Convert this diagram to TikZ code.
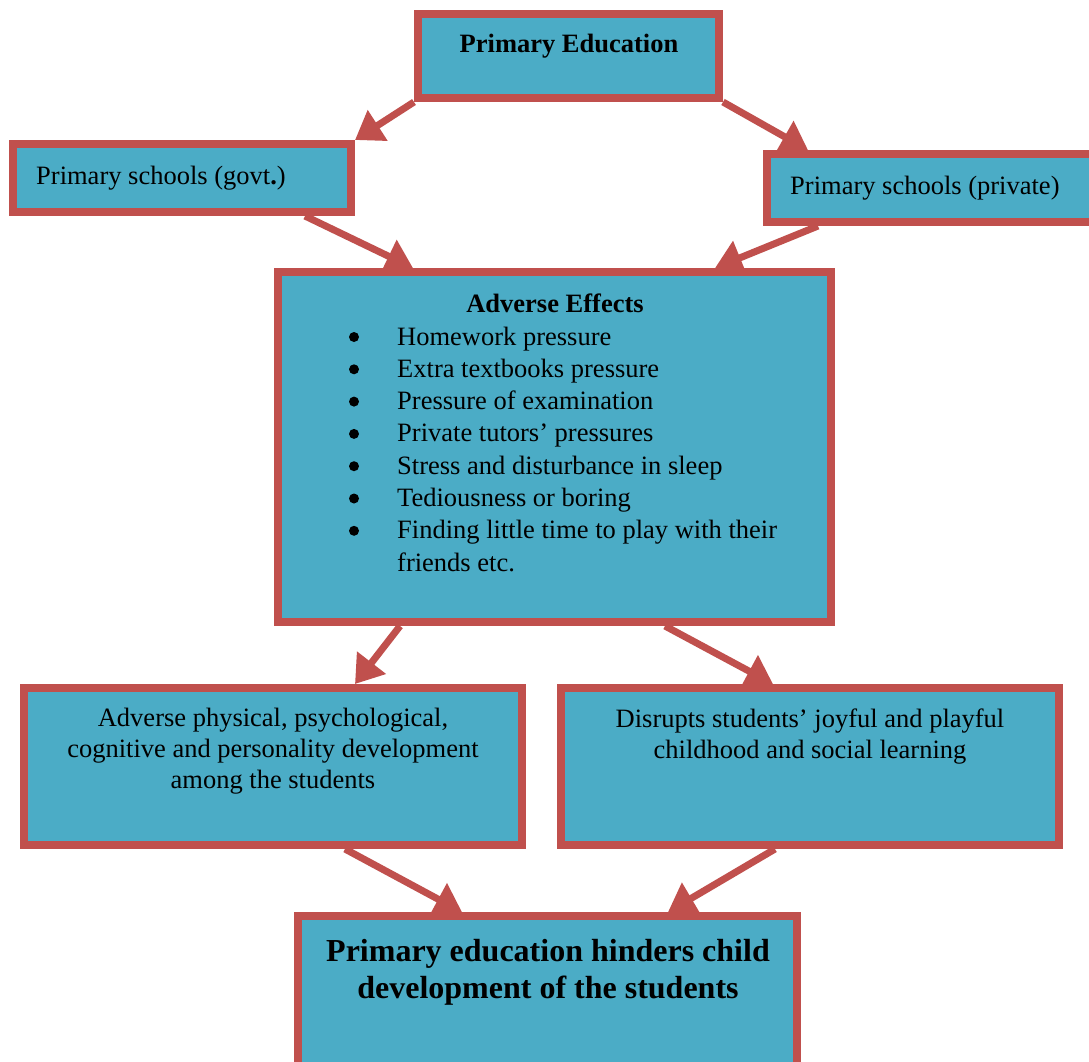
\documentclass[tikz,border=0pt]{standalone}
\usepackage{fontspec}
\setmainfont{Liberation Serif}
\usetikzlibrary{arrows.meta,calc}
\definecolor{boxfill}{HTML}{4BACC6}
\definecolor{boxline}{HTML}{C0504D}
\begin{document}
\begin{tikzpicture}[x=1pt,y=-1pt,
  box/.style={draw=boxline,fill=boxfill,line width=8pt,rectangle,inner sep=0pt},
  arr/.style={draw=boxline,line width=7pt,-{Triangle[length=27pt,width=35pt]}},
  txt/.style={font=\fontsize{26.5}{31}\selectfont,inner sep=0pt,align=center},
  btxt/.style={font=\fontsize{32}{37}\selectfont\bfseries,inner sep=0pt,align=center},
  bul/.style={circle,fill=black,inner sep=0pt,minimum size=10pt}]
\useasboundingbox (0,0) rectangle (1089,1061);
\node[box,minimum width=301pt,minimum height=84pt] (top) at (568.5,56) {};
\node[box,minimum width=338pt,minimum height=68pt] (left) at (182,178) {};
\node[box,minimum width=333pt,minimum height=68pt] (right) at (933.5,188) {};
\node[box,minimum width=553pt,minimum height=350pt] (adv) at (554.5,447) {};
\node[box,minimum width=498pt,minimum height=157pt] (bl) at (273,766.5) {};
\node[box,minimum width=498pt,minimum height=157pt] (br) at (810,766.5) {};
\node[box,minimum width=499pt,minimum height=170pt] (fin) at (547.5,1001) {};
% texts
\node[txt,font=\fontsize{26.5}{31}\selectfont\bfseries] (ttop) at (569,46) {Primary Education};
\node[txt,anchor=west] (tleft) at (36,178) {Primary schools (govt\textbf{.})};
\node[txt,anchor=west] (tright) at (790,188) {Primary schools (private)};
\node[txt,font=\fontsize{26.5}{31}\selectfont\bfseries] (tadv) at (555,303) {Adverse Effects};
\foreach \t [count=\i] in {Homework pressure, Extra textbooks pressure, Pressure of examination, Private tutors’ pressures, Stress and disturbance in sleep, Tediousness or boring, Finding little time to play with their} {
  \node[bul] (b\i) at (354,{337+32.3*(\i-1)}) {};
  \node[txt,anchor=base west] (l\i) at (397,{345+32.3*(\i-1)}) {\t};
}
\node[txt,anchor=base west] (l8) at (397,571) {friends etc.};
\node[txt] (tbl) at (273,751) {Adverse physical, psychological,\\cognitive and personality development\\among the students};
\node[txt] (tbr) at (810,736.5) {Disrupts students’ joyful and playful\\childhood and social learning};
\node[btxt] (tfin) at (548,972.5) {Primary education hinders child\\development of the students};
% arrows
\draw[arr] (top.south west) -- (left.north east);
\draw[arr] (top.south east) -- ($(right.north west)+(45,0)$);
\draw[arr] ($(left.south east)+(-50,0)$) -- ($(adv.north west)+(139,0)$);
\draw[arr] ($(right.south west)+(55,0)$) -- ($(adv.north west)+(441,0)$);
\draw[arr] ($(adv.south west)+(126,0)$) -- ($(bl.north west)+(335,0)$);
\draw[arr] ($(adv.south west)+(391,0)$) -- ($(br.north west)+(216,0)$);
\draw[arr] ($(bl.south west)+(325,0)$) -- ($(fin.north west)+(168,0)$);
\draw[arr] ($(br.south west)+(218,0)$) -- ($(fin.north west)+(374,0)$);
\end{tikzpicture}
\end{document}
